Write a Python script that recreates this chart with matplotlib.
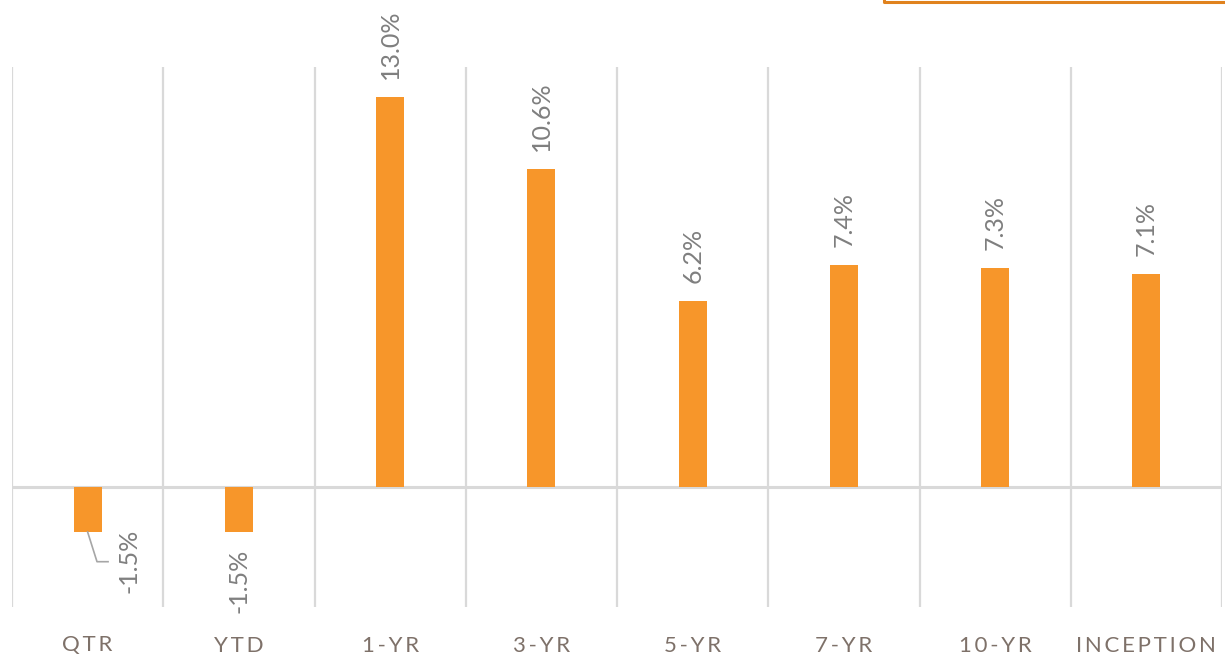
import matplotlib
matplotlib.use("Agg")
import matplotlib.pyplot as plt
from matplotlib.lines import Line2D

categories = ["QTR", "YTD", "1-YR", "3-YR", "5-YR", "7-YR", "10-YR", "INCEPTION"]
returns = [-1.5, -1.5, 13.0, 10.6, 6.2, 7.4, 7.3, 7.1]

BAR_COLOR = "#F7962A"
GRID_COLOR = "#D9D9D9"
LABEL_COLOR = "#7F7F7F"
CAT_COLOR = "#7E7169"

W, H = 1225, 655
fig = plt.figure(figsize=(W / 100, H / 100), dpi=100)
ax = fig.add_axes([12 / W, (H - 607) / H, (1222 - 12) / W, (607 - 67) / H])

x = list(range(len(categories)))
ax.bar(x, returns, width=0.185, color=BAR_COLOR, zorder=3)
ax.set_xlim(-0.5, len(categories) - 0.5)
ax.set_ylim(-4, 14)

for b in [i - 0.5 for i in range(len(categories) + 1)]:
    ax.axvline(b, color=GRID_COLOR, lw=1.6, zorder=1)
ax.axhline(0, color=GRID_COLOR, lw=2.2, zorder=2)

for s in ax.spines.values():
    s.set_visible(False)
ax.set_yticks([])
ax.set_xticks([])

font = ["Lato", "DejaVu Sans"]
LBL_SIZE = 18
for i, v in enumerate(returns):
    txt = f"{v:.1f}%"
    if i == 0:
        # label moved aside with leader line
        ax.text(0.274, -1.40, txt, rotation=90, ha="center", va="top",
                fontsize=LBL_SIZE, color=LABEL_COLOR, family=font)
        ax.plot([0.0, 0.062, 0.135], [v, -2.49, -2.49], color="#A6A6A6", lw=1.2, zorder=4)
    elif v >= 0:
        ax.annotate(txt, (i, v), xytext=(0, 13), textcoords="offset points",
                    rotation=90, ha="center", va="bottom", fontsize=LBL_SIZE,
                    color=LABEL_COLOR, family=font)
    else:
        ax.annotate(txt, (i, v), xytext=(0, -12), textcoords="offset points",
                    rotation=90, ha="center", va="top", fontsize=LBL_SIZE,
                    color=LABEL_COLOR, family=font)

sp = "\u200a\u200a"
for i, c in enumerate(categories):
    ax.text(i, -4.95, sp.join(c), ha="center", va="top",
            fontsize=16, color=CAT_COLOR, family=font)

# partial orange-bordered box at top right
fig.add_artist(Line2D([884 / W, 884 / W, 1.0], [1.0, 1 - 2 / H, 1 - 2 / H],
                      transform=fig.transFigure, color="#E0821E", lw=2.2))

fig.savefig("out.png", dpi=100)
